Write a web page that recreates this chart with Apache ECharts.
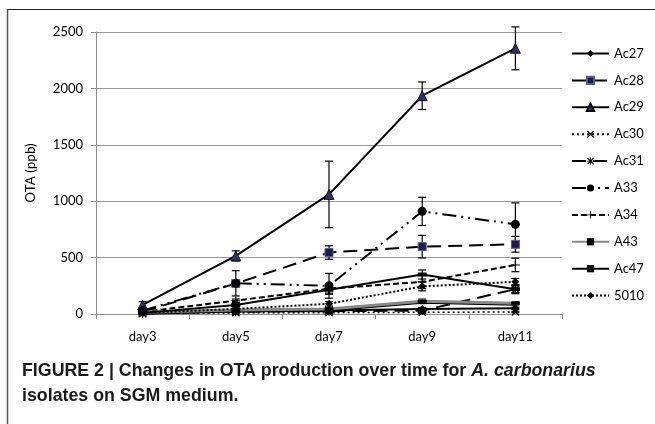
<!DOCTYPE html>
<html><head><meta charset="utf-8">
<script src="https://cdn.jsdelivr.net/npm/echarts@6/dist/echarts.min.js"></script>
<style>html,body{margin:0;padding:0;background:#fff}#c{width:655px;height:424px}</style>
</head><body><div id="c"></div>
<script>
const categories = ['day3','day5','day7','day9','day11'];
const yTicks = [0, 500, 1000, 1500, 2000, 2500];
const seriesNames = ['Ac27','Ac28','Ac29','Ac30','Ac31','A33','A34','A43','Ac47','5010'];
const Ac27 = [10, 25, 30, 45, 50];
const Ac28 = [20, 270, 545, 597, 618];
const Ac29 = [80, 515, 1060, 1935, 2355];
const Ac30 = [5, 10, 12, 15, 18];
const Ac31 = [5, 20, 25, 30, 220];
const A33 = [30, 272, 250, 910, 795];
const A34 = [20, 118, 225, 285, 435];
const A43 = [15, 35, 45, 112, 95];
const Ac47 = [10, 80, 215, 350, 220];
const s5010 = [10, 45, 90, 245, 285];
const errAc27 = [3, 5, 8, 10, 10];
const errAc28 = [10, 20, 60, 100, 70];
const errAc29 = [30, 45, 295, 122, 190];
const errAc30 = [2, 4, 5, 5, 6];
const errAc31 = [2, 5, 8, 10, 30];
const errA33 = [10, 112, 110, 125, 190];
const errA34 = [5, 15, 40, 60, 60];
const errA43 = [3, 8, 10, 20, 15];
const errAc47 = [3, 15, 40, 40, 40];
const err5010 = [3, 10, 20, 40, 30];

const values = [Ac27, Ac28, Ac29, Ac30, Ac31, A33, A34, A43, Ac47, s5010];
const errors = [errAc27, errAc28, errAc29, errAc30, errAc31, errA33, errA34, errA43, errAc47, err5010];

// filled thin-stroke glyphs so they render in both plot and legend
const D1 = 'M1.4,0.4L9.6,8.6L8.6,9.6L0.4,1.4Z';
const D2 = 'M8.6,0.4L9.6,1.4L1.4,9.6L0.4,8.6Z';
const V = 'M4.4,0H5.6V10H4.4Z';
const H = 'M0,4.4H10V5.6H0Z';
const P_X = 'path://' + D1 + D2;
const P_AST = 'path://' + D1 + D2 + V + H;
const P_PLUS = 'path://' + V + H;
const styles = [
  {sym:'diamond', size:8, line:{color:'#000', width:2, type:'solid'}, item:{color:'#000'}},
  {sym:'rect', size:8, line:{color:'#000', width:2, type:[14,7]}, item:{color:'#1c1c4a', borderColor:'#5c5c8c', borderWidth:1}},
  {sym:'triangle', size:10, line:{color:'#000', width:2, type:'solid'}, item:{color:'#2f3268', borderColor:'#000', borderWidth:0.8}},
  {sym:P_X, size:8, line:{color:'#000', width:1.5, type:[2,3]}, item:{color:'#000'}},
  {sym:P_AST, size:9, line:{color:'#000', width:2, type:[14,7]}, item:{color:'#000'}},
  {sym:'circle', size:9, line:{color:'#000', width:2, type:[14,5,2,5,2,5]}, item:{color:'#000'}},
  {sym:P_PLUS, size:9, line:{color:'#000', width:2, type:[6,3]}, item:{color:'#000'}},
  {sym:'rect', size:[9,3], line:{color:'#888', width:3, type:'solid', shadowColor:'#000', shadowBlur:0, shadowOffsetY:1}, item:{color:'#000'}},
  {sym:'rect', size:[9,4], line:{color:'#000', width:2, type:'solid'}, item:{color:'#000'}},
  {sym:'diamond', size:8, line:{color:'#000', width:2, type:[2,2]}, item:{color:'#000'}}
];

function errSeries(i) {
  return {
    type:'custom', name: seriesNames[i] + ' err', silent:true, z:1,
    encode:{x:0, y:[1,2]},
    renderItem: function(params, api) {
      const x = api.value(0);
      const lo = api.coord([x, api.value(1)]);
      const hi = api.coord([x, api.value(2)]);
      const w = 4, st = {stroke:'#000', lineWidth:1.2};
      return {type:'group', children:[
        {type:'line', shape:{x1:lo[0], y1:lo[1], x2:hi[0], y2:hi[1]}, style:st},
        {type:'line', shape:{x1:lo[0]-w, y1:lo[1], x2:lo[0]+w, y2:lo[1]}, style:st},
        {type:'line', shape:{x1:hi[0]-w, y1:hi[1], x2:hi[0]+w, y2:hi[1]}, style:st}
      ]};
    },
    data: values[i].map((v, k) => [k, Math.max(0, v - errors[i][k]), v + errors[i][k]])
  };
}

const series = [];
seriesNames.forEach((n, i) => {
  const s = styles[i];
  series.push({
    type:'line', name:n, data:values[i], symbol:s.sym, symbolSize:s.size, showSymbol:true,
    lineStyle:s.line, itemStyle:s.item, z:3, animation:false
  });
  series.push(errSeries(i));
});

const chart = echarts.init(document.getElementById('c'), null, {renderer:'canvas'});
chart.setOption({
  animation:false,
  backgroundColor:'#fff',
  textStyle:{fontFamily:'Lato, "Open Sans", sans-serif'},
  grid:{left:96, right:93, top:32, bottom:110},
  legend:{
    data:seriesNames, orient:'vertical', left:566, top:42,
    itemWidth:37, itemHeight:9, itemGap:13.9,
    textStyle:{fontSize:13, color:'#000', fontFamily:'Lato, "Open Sans", sans-serif'},
    selectedMode:false
  },
  xAxis:{
    type:'category', data:categories, boundaryGap:true,
    axisLine:{lineStyle:{color:'#8c8c8c', width:1}},
    axisTick:{show:true, length:5, inside:false, lineStyle:{color:'#8c8c8c'}},
    axisLabel:{color:'#000', fontSize:13, margin:16}
  },
  yAxis:{
    type:'value', min:yTicks[0], max:yTicks[yTicks.length-1], interval:500,
    name:'OTA (ppb)', nameLocation:'middle', nameGap:58, nameRotate:90,
    nameTextStyle:{color:'#000', fontSize:13.5},
    axisLine:{show:true, lineStyle:{color:'#8c8c8c'}},
    axisTick:{show:true, length:5, lineStyle:{color:'#8c8c8c'}},
    axisLabel:{color:'#000', fontSize:13, margin:13, formatter: v => String(v)},
    splitLine:{show:true, lineStyle:{color:'#9a9a9a', width:1}}
  },
  series: series,
  graphic:[
    {type:'line', shape:{x1:7, y1:9.5, x2:655, y2:9.5}, style:{stroke:'#222', lineWidth:1.2}},
    {type:'line', shape:{x1:7.5, y1:9, x2:7.5, y2:424}, style:{stroke:'#555', lineWidth:1.5}},
    {type:'text', left:22, top:362, style:{
      text:'{b|FIGURE 2 | Changes in OTA production over time for }{i|A. carbonarius}',
      rich:{
        b:{fontFamily:'"Liberation Sans", Arial, sans-serif', fontWeight:'bold', fontSize:17.8, fill:'#1a1a1a'},
        i:{fontFamily:'"Liberation Sans", Arial, sans-serif', fontWeight:'bold', fontStyle:'italic', fontSize:17.8, fill:'#1a1a1a'}
      }}},
    {type:'text', left:22, top:387, style:{
      text:'isolates on SGM medium.',
      fontFamily:'"Liberation Sans", Arial, sans-serif', fontWeight:'bold', fontSize:17.8, fill:'#1a1a1a'}}
  ]
});
</script></body></html>
